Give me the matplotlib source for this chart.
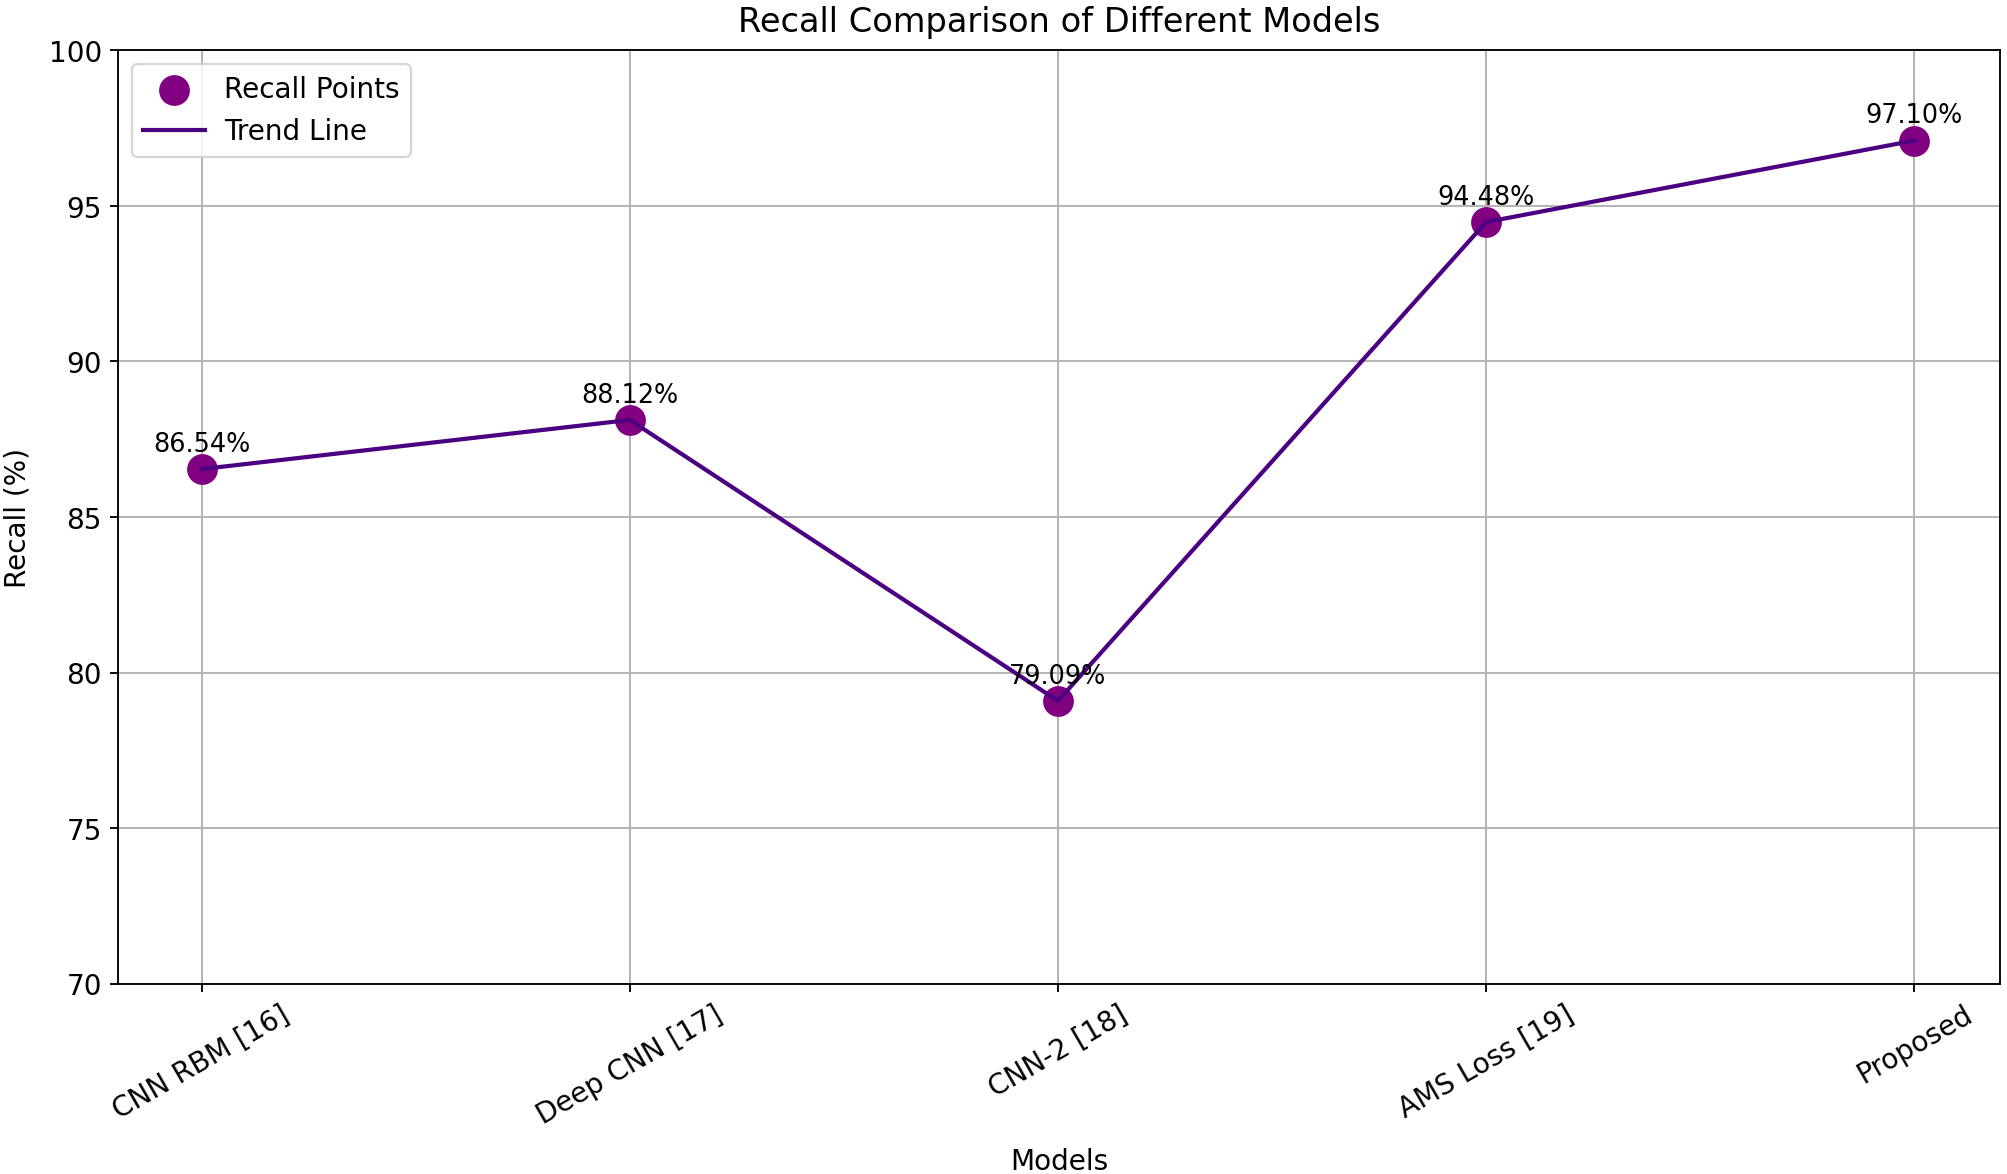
import matplotlib
matplotlib.use("Agg")
import matplotlib.pyplot as plt

models = ["CNN RBM [16]", "Deep CNN [17]", "CNN-2 [18]", "AMS Loss [19]", "Proposed"]
recall = [86.54, 88.12, 79.09, 94.48, 97.10]
yticks = [70, 75, 80, 85, 90, 95, 100]

fig = plt.figure(figsize=(12, 7.02), dpi=167.33)
ax = fig.add_axes([0.0588, 0.162, 0.9372, 0.7946])

x = list(range(len(models)))
ax.scatter(x, recall, s=150, color="purple", label="Recall Points", zorder=3)
ax.plot(x, recall, color="indigo", linewidth=1.8, label="Trend Line", zorder=4)

for xi, v in zip(x, recall):
    ax.text(xi, v + 0.8, f"{v:.2f}%", ha="center", va="center", fontsize=11, zorder=5)

ax.set_xticks(x)
ax.set_xticklabels(models, rotation=30)
ax.set_yticks(yticks)
ax.set_ylim(70, 100)
ax.set_xlim(-0.195, 4.2)
ax.grid(True)
ax.set_axisbelow(True)
ax.set_xlabel("Models", fontsize=12, labelpad=8)
ax.set_ylabel("Recall (%)", fontsize=12, labelpad=7.5)
ax.set_title("Recall Comparison of Different Models", fontsize=14.5, pad=8)
ax.tick_params(labelsize=12)
ax.legend(loc="upper left", fontsize=12, handlelength=2.2, handletextpad=0.7)

fig.savefig("out.png", dpi=167.33)
